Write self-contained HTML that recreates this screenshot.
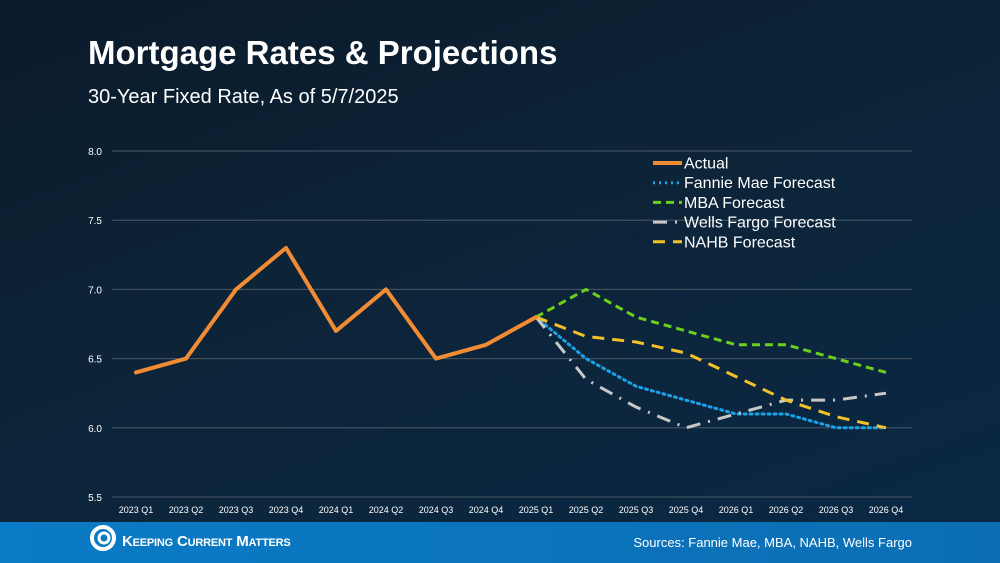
<!DOCTYPE html>
<html><head><meta charset="utf-8"><style>
body{margin:0;width:1000px;height:563px;overflow:hidden;font-family:"Liberation Sans",sans-serif;}
#bg{position:absolute;left:0;top:0;width:1000px;height:522px;background:linear-gradient(160deg,#0a1a2a 0%,#0d2438 45%,#0a2844 100%);}
#foot{position:absolute;left:0;top:522px;width:1000px;height:41px;background:linear-gradient(90deg,#0a7bc6,#0b6eb3);}
h1{position:absolute;left:88px;top:34px;margin:0;color:#fff;font-size:33px;font-weight:bold;}
#sub{position:absolute;left:88px;top:86px;color:#fff;font-size:20px;}
</style></head><body>
<div id="bg"></div>
<h1>Mortgage Rates &amp; Projections</h1>
<div id="sub">30-Year Fixed Rate, As of 5/7/2025</div>
<div id="foot">
<svg width="40" height="41" style="position:absolute;left:88px;top:0"><circle cx="15" cy="16" r="11" fill="none" stroke="#fff" stroke-width="4"/><circle cx="16" cy="16" r="5" fill="none" stroke="#fff" stroke-width="3"/></svg>
<div style="position:absolute;left:122px;top:11px;color:#fff;font-weight:bold;font-size:15px;font-variant:small-caps;letter-spacing:-0.2px">Keeping Current Matters</div>
<div style="position:absolute;right:88px;top:13px;color:#fff;font-size:13px">Sources: Fannie Mae, MBA, NAHB, Wells Fargo</div>
</div>
<svg id="chart" width="1000" height="522" style="position:absolute;left:0;top:0"></svg>
<script>
const categories=["2023 Q1","2023 Q2","2023 Q3","2023 Q4","2024 Q1","2024 Q2","2024 Q3","2024 Q4","2025 Q1","2025 Q2","2025 Q3","2025 Q4","2026 Q1","2026 Q2","2026 Q3","2026 Q4"];
const yTicks=[5.5,6.0,6.5,7.0,7.5,8.0];
const actual=[6.4,6.5,7.0,7.3,6.7,7.0,6.5,6.6,6.8];
const fannie=[6.8,6.5,6.3,6.2,6.1,6.1,6.0,6.0];
const mba=[6.8,7.0,6.8,6.7,6.6,6.6,6.5,6.4];
const wells=[6.8,6.35,6.15,6.0,6.1,6.2,6.2,6.25];
const nahb=[6.8,6.66,6.62,6.54,6.37,6.2,6.08,6.0];
const forecastStart=8;
const svg=document.getElementById('chart');const NS='http://www.w3.org/2000/svg';
const x=i=>136+i*50;const y=v=>497-(v-5.5)/2.5*346;
function mk(t,a,p){const e=document.createElementNS(NS,t);for(const k in a)e.setAttribute(k,a[k]);(p||svg).appendChild(e);return e;}
yTicks.forEach(v=>{const g=mk('line',{x1:112,x2:912,y1:y(v),y2:y(v),stroke:'#4a5866','stroke-width':1});


const t=mk('text',{x:102,y:y(v)+4,fill:'#fff','font-size':10,'text-anchor':'end'});t.textContent=v.toFixed(1);

});
categories.forEach((c,i)=>{const t=mk('text',{x:x(i),y:513,fill:'#fff','font-size':9,'text-anchor':'middle'});t.textContent=c;

});
const series=[
{d:fannie,off:forecastStart,c:'#1aa3e8',w:3,da:'2 4',cap:'round',n:'fannie-mae-line',l:'Fannie Mae Forecast'},
{d:mba,off:forecastStart,c:'#6ccf1c',w:3,da:'8 5',cap:'butt',n:'mba-line',l:'MBA Forecast'},
{d:wells,off:forecastStart,c:'#c8c8c8',w:3,da:'14 8 2 8',cap:'butt',n:'wells-fargo-line',l:'Wells Fargo Forecast'},
{d:nahb,off:forecastStart,c:'#f2c12a',w:3,da:'12 8',cap:'butt',n:'nahb-line',l:'NAHB Forecast'},
{d:actual,off:0,c:'#f28c34',w:4,da:'',cap:'round',n:'actual-line',l:'Actual'}];
series.forEach(s=>{const pts=s.d.map((v,i)=>x(i+s.off)+','+y(v)).join(' ');
const p=mk('polyline',{points:pts,fill:'none',stroke:s.c,'stroke-width':s.w,'stroke-dasharray':s.da,'stroke-linecap':s.cap,'stroke-linejoin':'round'});

});
const order=[4,0,1,2,3];
order.forEach((k,j)=>{const s=series[k];const ly=163+j*19.7;
const g=mk('g',{});


mk('line',{x1:653,x2:682,y1:ly,y2:ly,stroke:s.c,'stroke-width':s.w,'stroke-dasharray':s.da},g);
const t=mk('text',{x:684,y:ly+5.5,fill:'#fff','font-size':16},g);t.textContent=s.l;});
</script>
</body></html>
